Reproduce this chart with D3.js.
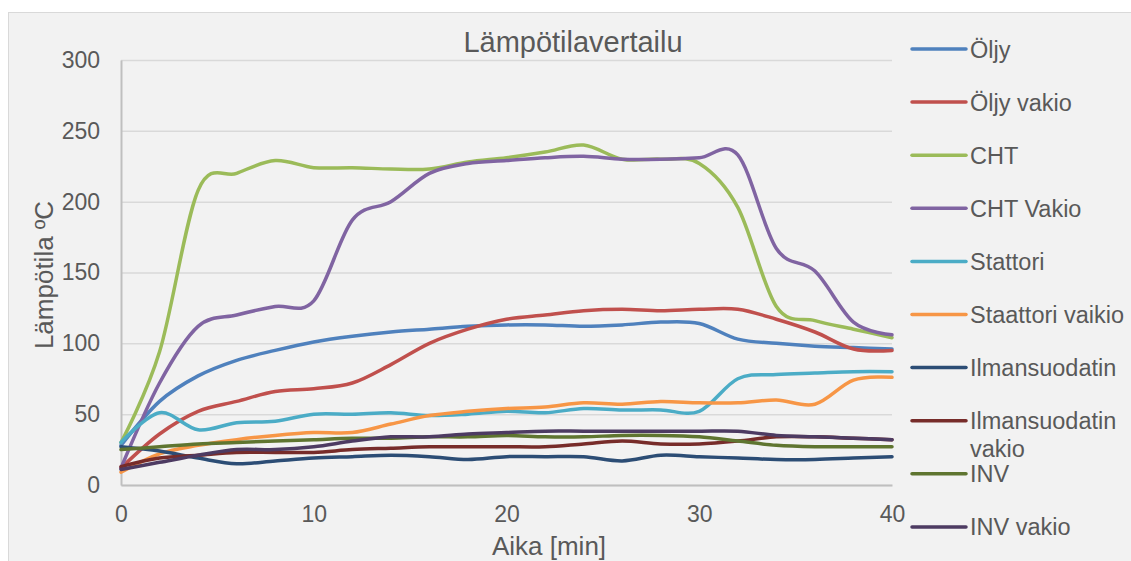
<!DOCTYPE html>
<html>
<head>
<meta charset="utf-8">
<script src="https://cdn.jsdelivr.net/npm/d3@7"></script>
<style>
  html, body { margin: 0; padding: 0; background: #ffffff; }
  svg { display: block; }
  text { font-family: "Liberation Sans", Arial, sans-serif; fill: #595959; }
</style>
</head>
<body>
<svg id="chart" width="1131" height="561"></svg>
<script>
// Measurement times (minutes)
const time = [0, 2, 4, 6, 8, 10, 12, 14, 16, 18, 20, 22, 24, 26, 28, 30, 32, 34, 36, 38, 40];

// Temperatures (°C) per measured point
const oljy         = [28, 59, 77, 88, 95, 101, 105, 108, 110, 112, 113, 113, 112, 113, 115, 114, 103, 100, 98, 97, 96];
const oljyVakio    = [12, 36, 52, 59, 66, 68, 72, 85, 100, 110, 117, 120, 123, 124, 123, 124, 124, 117, 108, 96, 95];
const cht          = [30, 94, 208, 220, 229, 224, 224, 223, 223, 228, 231, 235, 240, 230, 230, 227, 196, 126, 116, 110, 104];
const chtVakio     = [12, 72, 112, 120, 126, 130, 187, 200, 220, 227, 229, 231, 232, 230, 230, 231, 233, 167, 151, 115, 106];
const stattori     = [30, 51, 39, 44, 45, 50, 50, 51, 49, 50, 52, 51, 54, 53, 53, 52, 75, 78, 79, 80, 80];
const staattoriVak = [9, 22, 28, 32, 35, 37, 37, 43, 49, 52, 54, 55, 58, 57, 59, 58, 58, 60, 57, 74, 76];
const ilma         = [27, 24, 19, 15, 17, 19, 20, 21, 20, 18, 20, 20, 20, 17, 21, 20, 19, 18, 18, 19, 20];
const ilmaVakio    = [13, 19, 21, 23, 23, 23, 25, 26, 27, 27, 27, 27, 29, 31, 29, 29, 31, 34, 34, 33, 32];
const inv          = [25, 27, 29, 30, 31, 32, 33, 33, 34, 34, 35, 34, 34, 35, 35, 34, 31, 28, 27, 27, 27];
const invVakio     = [11, 16, 21, 25, 25, 27, 31, 34, 34, 36, 37, 38, 38, 38, 38, 38, 38, 35, 34, 33, 32];

const seriesNames = ["Öljy", "Öljy vakio", "CHT", "CHT Vakio", "Stattori", "Staattori vaikio",
                     "Ilmansuodatin", "Ilmansuodatin vakio", "INV", "INV vakio"];
const seriesValues = [oljy, oljyVakio, cht, chtVakio, stattori, staattoriVak, ilma, ilmaVakio, inv, invVakio];
const seriesColors = ["#4f81bd", "#c0504d", "#9bbb59", "#8064a2", "#4bacc6", "#f79646",
                      "#2c4d75", "#772c2a", "#5f7530", "#4d3b62"];

const xTicks = [0, 10, 20, 30, 40];
const yTicks = [0, 50, 100, 150, 200, 250, 300];

const svg = d3.select("#chart");

// chart background and border
svg.append("rect")
  .attr("x", 8.5).attr("y", 12.5)
  .attr("width", 1140).attr("height", 570)
  .attr("fill", "#f2f2f2")
  .attr("stroke", "#d9d9d9").attr("stroke-width", 1);

const plot = { left: 121, right: 892, top: 60, bottom: 485 };

const x = d3.scaleLinear().domain([0, 40]).range([plot.left, plot.right]);
const y = d3.scaleLinear().domain([0, 300]).range([plot.bottom, plot.top]);

// horizontal gridlines
const grid = svg.append("g")
  .attr("transform", `translate(${plot.left},0)`)
  .call(d3.axisLeft(y).tickValues(yTicks).tickSize(-(plot.right - plot.left)).tickFormat(""));
grid.select(".domain").remove();
grid.selectAll("line").attr("stroke", "#d9d9d9").attr("stroke-width", 1.5);

// y axis
const yAxis = svg.append("g")
  .attr("transform", `translate(${plot.left},0)`)
  .call(d3.axisLeft(y).tickValues(yTicks).tickSize(0).tickPadding(21));
yAxis.select(".domain").attr("stroke", "#bfbfbf").attr("stroke-width", 2);
yAxis.selectAll("text")
  .attr("font-size", 23).attr("fill", "#595959")
  .style("font-family", '"Liberation Sans", Arial, sans-serif');

// x axis
const xAxis = svg.append("g")
  .attr("transform", `translate(0,${plot.bottom})`)
  .call(d3.axisBottom(x).tickValues(xTicks).tickSize(0).tickPadding(21));
xAxis.select(".domain").attr("stroke", "#bfbfbf").attr("stroke-width", 2);
xAxis.selectAll("text")
  .attr("font-size", 23).attr("fill", "#595959")
  .style("font-family", '"Liberation Sans", Arial, sans-serif');

// smoothed series lines
const line = d3.line()
  .x((d, i) => x(time[i]))
  .y(d => y(d))
  .curve(d3.curveCatmullRom.alpha(0));

const linesG = svg.append("g");
seriesValues.forEach((vals, k) => {
  linesG.append("path")
    .datum(vals)
    .attr("d", line)
    .attr("fill", "none")
    .attr("stroke", seriesColors[k])
    .attr("stroke-width", 3.5)
    .attr("stroke-linejoin", "round")
    .attr("stroke-linecap", "round");
});

// titles
svg.append("text")
  .attr("x", 573).attr("y", 52)
  .attr("text-anchor", "middle")
  .attr("font-size", 29)
  .text("Lämpötilavertailu");

svg.append("text")
  .attr("x", 549).attr("y", 555)
  .attr("text-anchor", "middle")
  .attr("font-size", 26)
  .text("Aika [min]");

svg.append("text")
  .attr("transform", "translate(53,275) rotate(-90)")
  .attr("text-anchor", "middle")
  .attr("font-size", 26)
  .text("Lämpötila ºC");

// legend
const legend = svg.append("g");
seriesNames.forEach((name, k) => {
  const cy = 49 + k * 53.1;
  legend.append("line")
    .attr("x1", 912).attr("x2", 966)
    .attr("y1", cy).attr("y2", cy)
    .attr("stroke", seriesColors[k])
    .attr("stroke-width", 3.5)
    .attr("stroke-linecap", "round");
  const words = name === "Ilmansuodatin vakio" ? ["Ilmansuodatin", "vakio"] : [name];
  const t = legend.append("text")
    .attr("x", 970).attr("y", cy + 8.5)
    .attr("font-size", 23.5);
  words.forEach((w, j) => {
    t.append("tspan").attr("x", 970).attr("dy", j === 0 ? 0 : 28).text(w);
  });
});
</script>
</body>
</html>
